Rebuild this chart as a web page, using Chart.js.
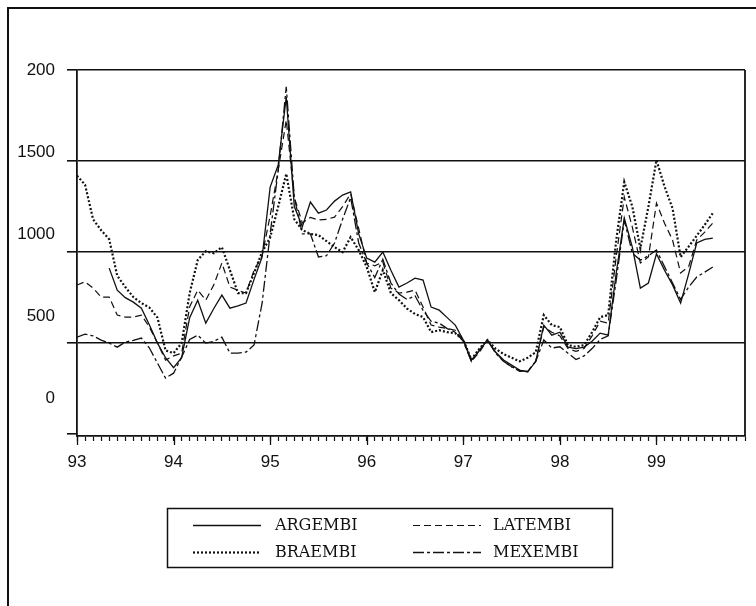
<!DOCTYPE html>
<html>
<head>
<meta charset="utf-8">
<script src="https://cdn.jsdelivr.net/npm/chart.js@4.4.1/dist/chart.umd.min.js"></script>
<style>
  html, body { margin: 0; padding: 0; background: #fff; }
  #wrap { position: relative; width: 756px; height: 606px; overflow: hidden; }
  #frame { position: absolute; left: 7px; top: 7px; width: 800px; height: 700px;
           border-top: 2px solid #111; border-left: 2px solid #111; }
  #c { position: absolute; left: 0; top: 0; }
</style>
</head>
<body>
<div id="wrap">
  <div id="frame"></div>
  <canvas id="c" width="756" height="606"></canvas>
</div>
<script>
// monthly, Jan 93 = 0
let seriesNames = ['ARGEMBI', 'BRAEMBI', 'LATEMBI', 'MEXEMBI']
let xTickLabels = ['93', '94', '95', '96', '97', '98', '99']
let yTickValues = [0, 500, 1000, 1500, 2000]
let yTickLabels = ['0', '500', '1000', '1500', '200']

let argembi = [null, null, null, null, 912, 791, 750, 725, 692, 600, 500, 420,
  365, 420, 640, 736, 610, 690, 764, 692, 705, 720, 850, 973,
  1357, 1478, 1852, 1250, 1140, 1275, 1214, 1231, 1280, 1313, 1330, 1100,
  967, 945, 1000, 900, 808, 830, 857, 846, 698, 681, 640, 599,
  517, 407, 460, 517, 451, 407, 379, 352, 341, 400, 599, 544,
  560, 478, 470, 478, 510, 555, 544, 885, 1187, 1027, 802, 830,
  990, 900, 820, 720, 880, 1050, 1070, 1077]
let braembi = [1420, 1370, 1180, 1120, 1070, 870, 808, 753, 720, 695, 640, 460,
  445, 500, 775, 956, 1005, 994, 1027, 901, 775, 775, 885, 1000,
  1080, 1250, 1430, 1180, 1121, 1100, 1093, 1060, 1027, 1000, 1082, 1011,
  918, 780, 901, 775, 736, 690, 660, 643, 560, 571, 560, 555,
  517, 410, 470, 517, 470, 440, 420, 400, 420, 450, 654, 599,
  588, 489, 480, 489, 560, 643, 654, 1066, 1385, 1250, 1020, 1250,
  1505, 1360, 1240, 973, 1030, 1090, 1150, 1214]
let latembi = [819, 837, 802, 753, 753, 654, 643, 643, 654, 588, 500, 407,
  430, 445, 700, 791, 736, 820, 940, 808, 790, 775, 900, 980,
  1200, 1450, 1725, 1300, 1160, 1190, 1176, 1180, 1192, 1250, 1320, 1130,
  940, 925, 945, 802, 775, 780, 791, 698, 599, 588, 580, 571,
  517, 400, 450, 517, 450, 400, 370, 345, 345, 400, 590, 560,
  540, 470, 455, 470, 540, 620, 610, 975, 1302, 1137, 940, 973,
  1269, 1159, 1066, 885, 920, 1066, 1110, 1159]
let mexembi = [533, 549, 540, 517, 500, 478, 506, 515, 528, 473, 390, 308,
  335, 423, 520, 544, 500, 510, 533, 445, 445, 451, 490, 720,
  1100, 1450, 1908, 1300, 1100, 1100, 973, 980, 1050, 1180, 1300, 1050,
  940, 860, 960, 830, 770, 740, 760, 680, 620, 610, 580, 560,
  510, 400, 460, 517, 445, 400, 370, 350, 345, 400, 517, 473,
  480, 445, 410, 430, 470, 520, 540, 846, 1176, 994, 956, 980,
  1011, 920, 830, 740, 808, 863, 890, 918]

function toPoints(arr) {
  return arr.map(function (v, i) { return {x: i, y: v} })
}

let ink = '#111'

// legend drawn as a boxed two-column key under the plot
let boxLegend = {
  id: 'boxLegend',
  afterDraw: function (chart) {
    let ctx = chart.ctx
    ctx.save()
    ctx.strokeStyle = ink
    ctx.lineWidth = 1.5
    ctx.setLineDash([])
    ctx.strokeRect(167.5, 508.5, 445, 59)
    // plot right border
    let a = chart.chartArea
    ctx.lineWidth = 1.8
    ctx.beginPath()
    ctx.moveTo(a.right, a.top)
    ctx.lineTo(a.right, a.bottom)
    ctx.stroke()
    // longer ticks at each year
    let xs = chart.scales.x
    ctx.lineWidth = 1.3
    for (let i = 0; i < xTickLabels.length; i++) {
      let px = Math.round(xs.getPixelForValue(i * 12)) + 0.5
      ctx.beginPath()
      ctx.moveTo(px, a.bottom)
      ctx.lineTo(px, a.bottom + 9)
      ctx.stroke()
    }
    let spots = [[193, 525, 275], [193, 552, 275], [413, 525, 493], [413, 552, 493]]
    ctx.font = '16px "DejaVu Serif"'
    ctx.textBaseline = 'middle'
    ctx.fillStyle = ink
    chart.data.datasets.forEach(function (ds, i) {
      let s = spots[i]
      ctx.lineWidth = ds.borderWidth
      ctx.setLineDash(ds.borderDash || [])
      ctx.beginPath()
      ctx.moveTo(s[0], s[1] + 0.5)
      ctx.lineTo(s[0] + 68, s[1] + 0.5)
      ctx.stroke()
      ctx.setLineDash([])
      ctx.fillText(ds.label, s[2], s[1] + 1)
    })
    ctx.restore()
  }
}

let chartposition = document.getElementById('c')
let embichart = new Chart(chartposition, {
  type: 'line',
  data: {
    datasets: [
      {label: seriesNames[0], data: toPoints(argembi), xAxisID: 'x', yAxisID: 'y', borderWidth: 1.3, borderDash: []},
      {label: seriesNames[1], data: toPoints(braembi), xAxisID: 'x', yAxisID: 'y', borderWidth: 2.2, borderDash: [2, 2]},
      {label: seriesNames[2], data: toPoints(latembi), xAxisID: 'x', yAxisID: 'y', borderWidth: 1.2, borderDash: [7, 4]},
      {label: seriesNames[3], data: toPoints(mexembi), xAxisID: 'x', yAxisID: 'y', borderWidth: 1.3, borderDash: [11, 3, 3, 3]}
    ]
  },
  options: {
    responsive: false,
    animation: false,
    devicePixelRatio: 1,
    spanGaps: false,
    layout: {padding: {left: 0, top: 70, right: 11, bottom: 130}},
    elements: {
      line: {borderColor: ink, tension: 0, fill: false},
      point: {radius: 0}
    },
    plugins: {legend: {display: false}, tooltip: {enabled: false}},
    scales: {
      x: {
        type: 'linear',
        min: 0,
        max: 83,
        afterBuildTicks: function (scale) {
          let t = []
          for (let m = 0; m <= 83; m++) t.push({value: m})
          scale.ticks = t
        },
        afterFit: function (scale) { scale.height = 40 },
        border: {display: true, color: ink, width: 1.8},
        grid: {drawOnChartArea: false, drawTicks: true, tickLength: 5, tickColor: ink, tickWidth: 1.2},
        ticks: {
          autoSkip: false,
          maxRotation: 0,
          padding: 11,
          color: ink,
          font: {family: '"Liberation Sans"', size: 17},
          callback: function (v) { return v % 12 === 0 ? xTickLabels[v / 12] : '' }
        }
      },
      yl: {
        type: 'linear',
        position: 'left',
        weight: 10,
        min: -232,
        max: 2000,
        afterBuildTicks: function (scale) {
          scale.ticks = yTickValues.map(function (v) { return {value: v} })
        },
        afterFit: function (scale) { scale.width = 67 },
        border: {display: false},
        grid: {display: false},
        ticks: {
          padding: 4,
          color: ink,
          font: {family: '"Liberation Sans"', size: 17},
          callback: function (v) { return yTickLabels[yTickValues.indexOf(v)] }
        }
      },
      y: {
        type: 'linear',
        position: 'left',
        weight: 0,
        min: -10,
        max: 2000,
        afterBuildTicks: function (scale) {
          scale.ticks = yTickValues.map(function (v) { return {value: v} })
        },
        afterFit: function (scale) { scale.width = 10 },
        border: {display: true, color: ink, width: 1.8},
        grid: {
          drawTicks: true,
          tickLength: 10,
          tickColor: ink,
          lineWidth: 1.6,
          color: function (c) { return c.tick && c.tick.value === 0 ? 'rgba(0,0,0,0)' : ink }
        },
        ticks: {display: false}
      }
    }
  },
  plugins: [boxLegend]
})
</script>
</body>
</html>
